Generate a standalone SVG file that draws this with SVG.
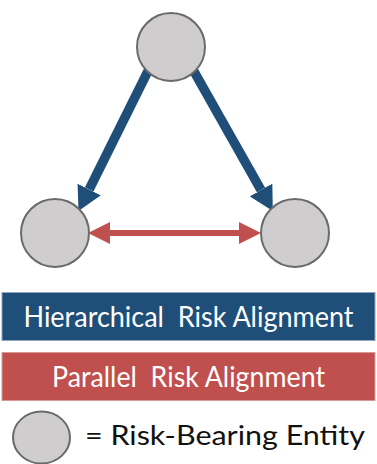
<svg xmlns="http://www.w3.org/2000/svg" width="377" height="464" viewBox="0 0 377 464">
  <style>
    .entity { fill: #cfcdce; stroke: #6a6a6a; stroke-width: 2; }
    .hier { stroke: #1f4e79; stroke-width: 9.5; fill: none; }
    .par { stroke: #c0504d; stroke-width: 6; fill: none; }
    .bar-text { font-family: Lato, "Liberation Sans", sans-serif; font-size: 28px; fill: #ffffff; white-space: pre; }
    .legend-text { font-family: Lato, "Liberation Sans", sans-serif; font-size: 27px; fill: #111111; }
  </style>
  <defs>
    <marker id="head-blue" markerUnits="userSpaceOnUse" markerWidth="24" markerHeight="26" refX="0" refY="13" orient="auto">
      <path d="M0,0 L24,13 L0,26 z" fill="#1f4e79"/>
    </marker>
    <marker id="head-red" markerUnits="userSpaceOnUse" markerWidth="22" markerHeight="22" refX="0" refY="11" orient="auto-start-reverse">
      <path d="M0,0 L22,11 L0,22 z" fill="#c0504d"/>
    </marker>
  </defs>

  <!-- connectors -->
  <g id="connectors">
    <path class="hier" d="M150.5,66 L89.2,189.4" marker-end="url(#head-blue)"/>
    <path class="hier" d="M191.5,67 L261,190" marker-end="url(#head-blue)"/>
    <path class="par" d="M110,233 L239,233" marker-start="url(#head-red)" marker-end="url(#head-red)"/>
  </g>

  <!-- entities -->
  <g id="entity-top">
    <circle class="entity" cx="171" cy="47" r="34"/>
  </g>
  <g id="entity-left">
    <circle class="entity" cx="55" cy="233" r="34"/>
  </g>
  <g id="entity-right">
    <circle class="entity" cx="295" cy="233" r="34"/>
  </g>

  <!-- key -->
  <g id="key-hierarchical">
    <rect x="2" y="292.5" width="373" height="48" fill="#1f4e79" stroke="#8aa4c2" stroke-width="1"/>
    <text class="bar-text" x="23.5" y="327" textLength="330" lengthAdjust="spacingAndGlyphs">Hierarchical  Risk Alignment</text>
  </g>
  <g id="key-parallel">
    <rect x="2" y="352.5" width="373" height="48" fill="#c0504d" stroke="#d99896" stroke-width="1"/>
    <text class="bar-text" x="52" y="387" textLength="273" lengthAdjust="spacingAndGlyphs">Parallel  Risk Alignment</text>
  </g>
  <g id="key-entity">
    <ellipse class="entity" cx="41.5" cy="437.5" rx="28.5" ry="26"/>
    <text class="legend-text" x="85" y="445" textLength="280" lengthAdjust="spacingAndGlyphs">= Risk-Bearing Entity</text>
  </g>
</svg>
